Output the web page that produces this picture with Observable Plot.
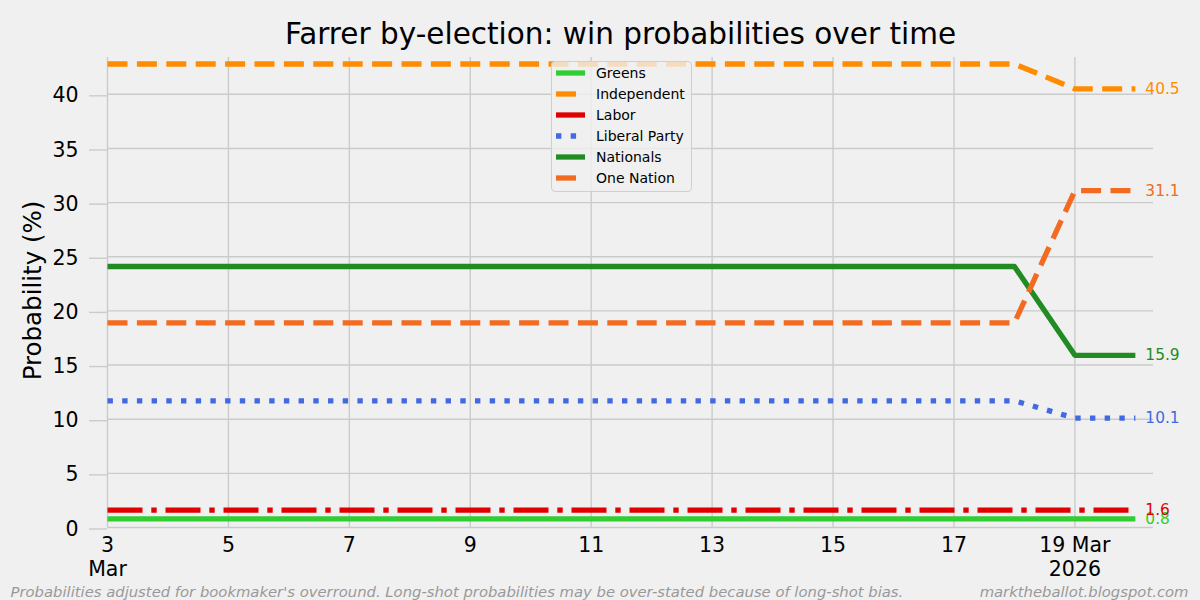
<!DOCTYPE html>
<html>
<head>
<meta charset="utf-8">
<script src="https://cdn.jsdelivr.net/npm/d3@7"></script>
<script src="https://cdn.jsdelivr.net/npm/@observablehq/plot@0.6"></script>
<style>
  body { margin: 0; background: #f0f0f0; font-family: "DejaVu Sans", sans-serif; }
  #wrap { position: relative; width: 1200px; height: 600px; overflow: hidden; background: #f0f0f0; }
  #chart { position: absolute; left: 0; top: 0; }
  #legend { position: absolute; left: 551px; top: 61px; width: 139px; height: 129px;
            border: 1px solid #cfcfcf; border-radius: 4px; background: rgba(240,240,240,0.8); }
  .row { position: absolute; left: 0; height: 20px; line-height: 20px; font-size: 14px; color: #000; white-space: nowrap; }
  .row svg { position: absolute; left: 4px; top: 6px; }
  .row span { position: absolute; left: 44px; top: 0; }
</style>
</head>
<body>
<div id="wrap">
  <div id="chart"></div>
  <div id="legend"></div>
</div>
<script>
// ---- data ----
const dates = ["2026-03-03","2026-03-04","2026-03-05","2026-03-06","2026-03-07","2026-03-08",
               "2026-03-09","2026-03-10","2026-03-11","2026-03-12","2026-03-13","2026-03-14",
               "2026-03-15","2026-03-16","2026-03-17","2026-03-18","2026-03-19","2026-03-20"];
const greens      = [0.8,0.8,0.8,0.8,0.8,0.8,0.8,0.8,0.8,0.8,0.8,0.8,0.8,0.8,0.8,0.8,0.8,0.8];
const independent = [42.8,42.8,42.8,42.8,42.8,42.8,42.8,42.8,42.8,42.8,42.8,42.8,42.8,42.8,42.8,42.8,40.5,40.5];
const labor       = [1.6,1.6,1.6,1.6,1.6,1.6,1.6,1.6,1.6,1.6,1.6,1.6,1.6,1.6,1.6,1.6,1.6,1.6];
const liberal     = [11.7,11.7,11.7,11.7,11.7,11.7,11.7,11.7,11.7,11.7,11.7,11.7,11.7,11.7,11.7,11.7,10.1,10.1];
const nationals   = [24.1,24.1,24.1,24.1,24.1,24.1,24.1,24.1,24.1,24.1,24.1,24.1,24.1,24.1,24.1,24.1,15.9,15.9];
const oneNation   = [18.9,18.9,18.9,18.9,18.9,18.9,18.9,18.9,18.9,18.9,18.9,18.9,18.9,18.9,18.9,18.9,31.1,31.1];

const partyNames  = ["Greens","Independent","Labor","Liberal Party","Nationals","One Nation"];
const partyValues = [greens, independent, labor, liberal, nationals, oneNation];
const partyColors = ["#32cd32","#ff8c00","#e00000","#4169e1","#228b22","#f26b21"];
const partyDashes = [null, "20,9.4", "35,8.8,5.4,8.8", "5.4,9.3", null, "20,9.4"];

const yTicks = [0,5,10,15,20,25,30,35,40];
const xTickDays = ["2026-03-03","2026-03-05","2026-03-07","2026-03-09","2026-03-11",
                   "2026-03-13","2026-03-15","2026-03-17","2026-03-19"];
const xTickLabels = ["3\nMar","5","7","9","11","13","15","17","19 Mar\n2026"];

const titleText = "Farrer by-election: win probabilities over time";
const yLabelText = "Probability (%)";
const footLeft = "Probabilities adjusted for bookmaker's overround. Long-shot probabilities may be over-stated because of long-shot bias.";
const footRight = "marktheballot.blogspot.com";

// ---- build ----
const parseDate = s => new Date(s + "T00:00:00Z");
const series = partyNames.map((name, i) => ({
  name, color: partyColors[i], dash: partyDashes[i],
  data: dates.map((d, j) => ({date: parseDate(d), value: partyValues[i][j], party: name}))
}));
const xTicks = xTickDays.map(parseDate);
const labelFor = new Map(xTicks.map((d, i) => [+d, xTickLabels[i]]));

const lineMarks = series.map(s => Plot.lineY(s.data, {
  x: "date", y: "value", stroke: s.color, strokeWidth: 5.3,
  strokeDasharray: s.dash || undefined, strokeLinejoin: "round", strokeLinecap: "butt"
}));
const endLabels = series.map(s => Plot.text([s.data[s.data.length - 1]], {
  x: "date", y: "value", text: d => d.value.toFixed(1), fill: s.color,
  textAnchor: "start", dx: 10, fontSize: 15.4, lineAnchor: "middle"
}));

const chart = Plot.plot({
  width: 1200, height: 600,
  marginLeft: 107, marginRight: 47, marginTop: 57, marginBottom: 73,
  style: {background: "#f0f0f0", fontFamily: "DejaVu Sans, sans-serif", color: "#000", overflow: "visible"},
  x: {type: "utc", domain: [parseDate("2026-03-03"), new Date("2026-03-20T07:12:00Z")]},
  y: {domain: [0, 43.4]},
  marks: [
    Plot.gridY(yTicks, {stroke: "#cbcbcb", strokeOpacity: 1, strokeWidth: 1.4}),
    Plot.gridX(xTicks, {stroke: "#cbcbcb", strokeOpacity: 1, strokeWidth: 1.4}),
    Plot.axisY({ticks: yTicks, tickSize: 18, tickPadding: 11, stroke: "#cbcbcb", strokeWidth: 1.4,
                fontSize: 20.5, label: null, dy: 1.5}),
    Plot.axisX({ticks: xTicks, tickSize: 0, tickPadding: 7, fontSize: 20.5, lineHeight: 1.17,
                tickFormat: d => labelFor.get(+d), label: null}),
    ...lineMarks,
    ...endLabels,
    Plot.text([titleText], {frameAnchor: "top", text: d => d, dx: -10, dy: -13.7,
               lineAnchor: "bottom", fontSize: 29.5}),
    Plot.text([yLabelText], {frameAnchor: "left", text: d => d, dx: -74, dy: -2, rotate: -90,
               lineAnchor: "middle", textAnchor: "middle", fontSize: 24.5}),
    Plot.text([footLeft], {frameAnchor: "bottom-left", text: d => d, dx: -97, dy: 69,
               lineAnchor: "bottom", textAnchor: "start", fontSize: 14.8, fontStyle: "italic", fill: "#999"}),
    Plot.text([footRight], {frameAnchor: "bottom-right", text: d => d, dx: 35, dy: 69,
               lineAnchor: "bottom", textAnchor: "end", fontSize: 14.8, fontStyle: "italic", fill: "#999"})
  ]
});
document.getElementById("chart").appendChild(chart);

// ---- legend ----
const legend = d3.select("#legend");
series.forEach((s, i) => {
  const row = legend.append("div").attr("class", "row")
    .style("top", (73 + 21 * i - 62 - 10) + "px").style("width", "139px");
  const sv = row.append("svg").attr("width", 29).attr("height", 8);
  sv.append("line").attr("x1", 0).attr("x2", 29).attr("y1", 4).attr("y2", 4)
    .attr("stroke", s.color).attr("stroke-width", 5.3)
    .attr("stroke-dasharray", s.dash || null);
  row.append("span").text(s.name);
});
</script>
</body>
</html>
